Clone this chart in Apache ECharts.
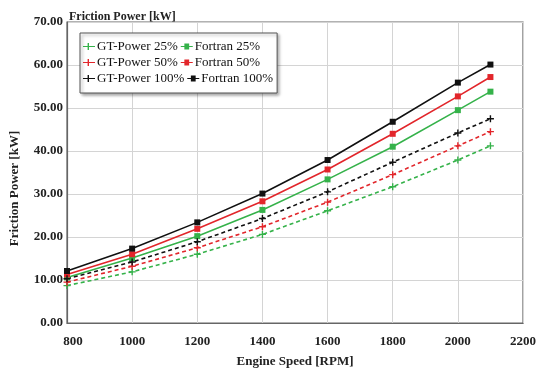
<!DOCTYPE html>
<html>
<head>
<meta charset="utf-8">
<script src="https://cdn.jsdelivr.net/npm/echarts@6/dist/echarts.min.js"></script>
<style>
  html, body { margin: 0; padding: 0; background: #fff; }
  #main { width: 545px; height: 373px; }
</style>
</head>
<body>
<div id="main"></div>
<script>
var engineSpeed = [800, 1000, 1200, 1400, 1600, 1800, 2000, 2100];
var gt25 = [8.7, 11.9, 16.0, 20.6, 26.1, 31.7, 37.9, 41.2];
var gt50 = [9.5, 13.2, 17.5, 22.4, 28.1, 34.5, 41.2, 44.5];
var gt100 = [10.3, 14.2, 18.9, 24.3, 30.5, 37.4, 44.2, 47.5];
var fortran25 = [10.6, 15.1, 20.2, 26.3, 33.4, 41.0, 49.5, 53.8];
var fortran50 = [11.3, 16.0, 21.9, 28.3, 35.7, 44.0, 52.7, 57.2];
var fortran100 = [12.1, 17.3, 23.4, 30.1, 37.9, 46.8, 55.9, 60.1];

var green = "#35b24a";
var red = "#e2262b";
var black = "#111111";
var plus = "path://M4,0h2v4h4v2h-4v4h-2v-4h-4v-2h4z";
// legend icons: short line with the marker in the middle
var plusIcon = "path://M0,4.4h4.6v-3h1.4v3h6v1.2h-6v3h-1.4v-3h-4.6z";
var rectIcon = "path://M0,4.4h3.6v-2.4h4.8v2.4h3.6v1.2h-3.6v2.4h-4.8v-2.4h-3.6z";
var font = "'Liberation Serif', 'Times New Roman', serif";

function pairs(vals) {
  return engineSpeed.map(function (x, i) { return [x, vals[i]]; });
}

function gtSeries(name, vals, color) {
  return {
    name: name,
    type: "line",
    data: pairs(vals),
    symbol: plus,
    symbolSize: 7,
    itemStyle: { color: color },
    lineStyle: { color: color, width: 1.6, type: [4, 3] }
  };
}

function fortranSeries(name, vals, color) {
  return {
    name: name,
    type: "line",
    data: pairs(vals),
    symbol: "rect",
    symbolSize: 6,
    itemStyle: { color: color },
    lineStyle: { color: color, width: 1.6 }
  };
}

var myChart = echarts.init(document.getElementById("main"));
var option = {
  animation: false,
  textStyle: { fontFamily: font },
  title: {
    text: "Friction Power [kW]",
    left: 64,
    top: 6,
    textStyle: { fontFamily: font, fontSize: 12, fontWeight: "bold", color: "#222" }
  },
  legend: {
    left: 80,
    top: 33,
    width: 196,
    padding: [7, 4, 8, 3],
    itemGap: 3,
    itemWidth: 12,
    itemHeight: 10,
    backgroundColor: "#fff",
    borderColor: "#555",
    borderWidth: 1,
    shadowColor: "rgba(0,0,0,0.35)",
    shadowBlur: 3,
    shadowOffsetX: 2,
    shadowOffsetY: 2,
    textStyle: { fontFamily: font, fontSize: 13, color: "#111", padding: [0, 0, 0, -3], lineHeight: 13 },
    data: [
      { name: "GT-Power 25%", icon: plusIcon },
      { name: "Fortran 25%", icon: rectIcon },
      { name: "GT-Power 50%", icon: plusIcon },
      { name: "Fortran 50%", icon: rectIcon },
      { name: "GT-Power 100%", icon: plusIcon },
      { name: "Fortran 100%", icon: rectIcon }
    ]
  },
  grid: {
    left: 66,
    right: 22,
    top: 22,
    bottom: 42,
    show: true,
    borderColor: "#666",
    borderWidth: 1.2
  },
  xAxis: {
    type: "value",
    min: 800,
    max: 2200,
    interval: 200,
    name: "Engine Speed [RPM]",
    nameLocation: "middle",
    nameGap: 32,
    nameTextStyle: { fontFamily: font, fontSize: 13, fontWeight: "bold", color: "#222" },
    axisLine: { lineStyle: { color: "#666", width: 1.2 } },
    axisTick: { show: false },
    splitLine: { lineStyle: { color: "#d4d4d4" } },
    axisLabel: {
      margin: 12,
      fontFamily: font,
      fontSize: 13,
      fontWeight: "bold",
      color: "#222",
      formatter: function (v) { return v === 800 ? "{first|800}" : String(v); },
      rich: { first: { padding: [0, 0, 0, 12], fontFamily: font, fontSize: 13, fontWeight: "bold", color: "#222" } }
    }
  },
  yAxis: {
    type: "value",
    min: 0,
    max: 70,
    interval: 10,
    name: "Friction Power [kW]",
    nameLocation: "middle",
    nameGap: 46,
    nameTextStyle: { fontFamily: font, fontSize: 13, fontWeight: "bold", color: "#222", padding: [0, 32, 0, 0] },
    axisLine: { show: true, lineStyle: { color: "#666", width: 1.2 } },
    axisTick: { show: false },
    splitLine: { lineStyle: { color: "#d4d4d4" } },
    axisLabel: {
      margin: 4,
      fontFamily: font,
      fontSize: 13,
      fontWeight: "bold",
      color: "#222",
      formatter: function (v) { return v.toFixed(2); }
    }
  },
  series: [
    gtSeries("GT-Power 25%", gt25, green),
    fortranSeries("Fortran 25%", fortran25, green),
    gtSeries("GT-Power 50%", gt50, red),
    fortranSeries("Fortran 50%", fortran50, red),
    gtSeries("GT-Power 100%", gt100, black),
    fortranSeries("Fortran 100%", fortran100, black)
  ]
};
myChart.setOption(option);
</script>
</body>
</html>
